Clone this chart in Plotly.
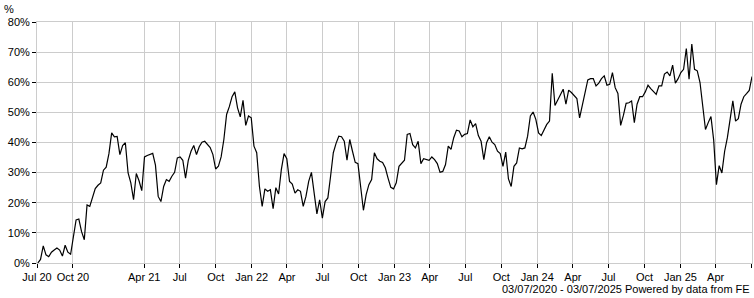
import pandas as pd
import plotly.graph_objects as go

start_date = "2020-07-03"
end_date = "2025-07-03"

performance = [
    0.0, 1.2, 5.7, 2.7, 2.1, 3.6, 4.3, 5.0, 4.3, 2.3,
    5.9, 3.6, 2.9, 9.0, 14.3, 14.6, 10.4, 7.7, 19.3, 18.8,
    21.9, 24.7, 25.8, 26.6, 30.8, 31.8, 36.3, 43.2, 41.9, 42.0,
    36.0, 39.0, 39.9, 29.9, 26.6, 21.0, 29.7, 27.3, 24.0, 35.2,
    35.7, 36.0, 36.4, 32.5, 22.1, 20.4, 25.4, 27.7, 27.1, 28.8,
    30.1, 34.9, 35.2, 34.1, 28.2, 34.1, 37.1, 39.0, 36.0, 38.6,
    40.1, 40.4, 39.3, 38.3, 36.0, 31.2, 32.1, 35.2, 41.0, 49.3,
    51.9, 55.2, 56.8, 51.5, 48.5, 54.0, 45.7, 48.8, 48.2, 38.8,
    36.6, 25.4, 18.8, 24.6, 23.8, 24.3, 18.0, 25.0, 22.9, 31.0,
    36.3, 34.6, 27.1, 26.2, 23.2, 24.3, 23.8, 18.8, 22.1, 27.1,
    30.1, 23.2, 16.3, 21.0, 14.9, 20.4, 21.6, 28.8, 36.6, 39.7,
    42.1, 41.9, 40.4, 34.1, 41.0, 37.1, 33.4, 33.0, 24.9, 17.5,
    22.7, 26.0, 27.7, 36.6, 34.6, 33.8, 33.4, 31.6, 28.2, 25.1,
    24.6, 26.6, 32.1, 33.2, 34.1, 42.7, 43.0, 39.3, 38.2, 40.4,
    33.0, 34.6, 34.3, 34.1, 35.2, 34.3, 33.0, 30.1, 30.4, 32.7,
    38.8, 37.7, 41.6, 44.1, 43.8, 41.9, 42.7, 43.0, 47.5, 45.2,
    46.3, 42.3, 40.4, 34.3, 39.9, 41.9, 40.1, 39.3, 37.1, 36.3,
    32.1, 36.8, 27.9, 25.4, 32.1, 33.2, 38.2, 37.9, 38.2, 42.1,
    48.8, 50.1, 47.7, 43.2, 42.3, 44.1, 46.0, 47.1, 63.0, 52.3,
    54.1, 56.3, 57.7, 52.7, 57.4, 56.6, 55.7, 54.6, 48.2, 52.1,
    56.8, 60.8, 61.2, 61.2, 58.8, 59.7, 61.2, 62.1, 59.0, 59.3,
    63.2, 58.2, 56.3, 45.7, 49.0, 53.0, 53.2, 53.8, 46.6, 52.7,
    55.2, 55.2, 56.8, 59.0, 57.9, 56.8, 56.0, 58.8, 58.8, 62.7,
    63.4, 62.1, 65.7, 59.7, 61.2, 63.2, 64.3, 71.2, 61.0, 72.7,
    64.3, 63.8, 59.9, 52.1, 44.3, 46.6, 48.6, 40.8, 26.0, 32.3,
    29.9, 37.1, 41.6, 47.7, 53.8, 47.1, 47.9, 52.7, 55.2, 56.2,
    57.3, 61.9,
]

dates = pd.date_range(start_date, end_date, periods=len(performance))

tick_dates = [
    "2020-07-01", "2020-10-01", "2021-04-01", "2021-07-01", "2021-10-01",
    "2022-01-01", "2022-04-01", "2022-07-01", "2022-10-01", "2023-01-01",
    "2023-04-01", "2023-07-01", "2023-10-01", "2024-01-01", "2024-04-01",
    "2024-07-01", "2024-10-01", "2025-01-01", "2025-04-01", "2025-07-01",
]
tick_labels = [
    "Jul 20", "Oct 20", "Apr 21", "Jul", "Oct",
    "Jan 22", "Apr", "Jul", "Oct", "Jan 23",
    "Apr", "Jul", "Oct", "Jan 24", "Apr",
    "Jul", "Oct", "Jan 25", "Apr", "",
]
y_ticks = [0, 10, 20, 30, 40, 50, 60, 70, 80]
y_labels = [f"{v}%" for v in y_ticks]

footer = "03/07/2020 - 03/07/2025 Powered by data from FE"

FONT = "Liberation Sans, Arial, sans-serif"
GRID = "#cccccc"

fig = go.Figure()
fig.add_trace(go.Scatter(
    x=dates, y=performance, mode="lines",
    line=dict(color="#000000", width=1.2),
    hoverinfo="skip", showlegend=False,
))

fig.update_layout(
    width=754, height=298,
    margin=dict(l=37, r=2, t=22, b=35),
    paper_bgcolor="white", plot_bgcolor="white",
    font=dict(family=FONT, size=11, color="#000000"),
    showlegend=False,
)
fig.update_xaxes(
    range=["2020-07-01", "2025-07-03"],
    tickmode="array", tickvals=tick_dates, ticktext=tick_labels,
    showgrid=True, gridcolor=GRID, gridwidth=1,
    ticks="outside", ticklen=4, tickcolor="#000000", tickwidth=1,
    showline=True, linecolor=GRID, linewidth=1, mirror=True,
    zeroline=False, tickangle=0,
    tickfont=dict(family=FONT, size=11, color="#000000"),
)
fig.update_yaxes(
    range=[0, 80],
    tickmode="array", tickvals=y_ticks, ticktext=y_labels,
    showgrid=True, gridcolor=GRID, gridwidth=1,
    ticks="outside", ticklen=4, tickcolor="#000000", tickwidth=1,
    showline=True, linecolor=GRID, linewidth=1, mirror=True,
    zeroline=False,
    tickfont=dict(family=FONT, size=11, color="#000000"),
)

fig.add_annotation(
    text="%", xref="paper", yref="paper", x=0, y=1,
    xanchor="left", yanchor="bottom", xshift=-35, yshift=5,
    showarrow=False, font=dict(family=FONT, size=11, color="#000000"),
)
fig.add_annotation(
    text=footer, xref="paper", yref="paper", x=1, y=0,
    xanchor="right", yanchor="top", xshift=0, yshift=-18,
    showarrow=False, font=dict(family=FONT, size=11, color="#000000"),
)

fig.write_html("out.html")
